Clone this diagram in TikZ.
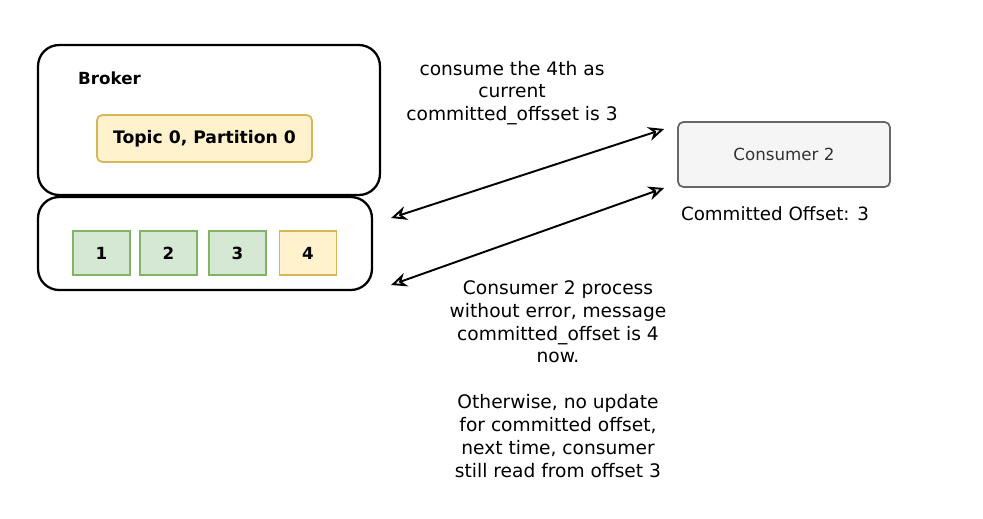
\documentclass[tikz,border=0pt]{standalone}
\usepackage{fontspec}
\setmainfont{DejaVu Sans}
\usepackage{xcolor}
\usetikzlibrary{arrows.meta,positioning}

\definecolor{topicfill}{HTML}{FFF2CC}
\definecolor{topicline}{HTML}{D6B656}
\definecolor{donefill}{HTML}{D5E8D4}
\definecolor{doneline}{HTML}{82B366}
\definecolor{consfill}{HTML}{F5F5F5}
\definecolor{consline}{HTML}{666666}
\definecolor{constext}{HTML}{333333}

\begin{document}
\begin{tikzpicture}[
  x=0.02cm, y=-0.02cm,
  frame/.style={draw, line width=1.3pt, rounded corners=12pt},
  topic/.style={draw=topicline, fill=topicfill, line width=1pt, rounded corners=3pt,
                minimum width=4.3cm, minimum height=0.94cm, font=\bfseries\fontsize{9.8}{12}\selectfont},
  msg/.style={line width=1pt, minimum width=1.14cm, minimum height=0.88cm,
              font=\bfseries\fontsize{9.5}{12}\selectfont},
  done/.style={msg, draw=doneline, fill=donefill},
  todo/.style={msg, draw=topicline, fill=topicfill},
  consumer/.style={draw=consline, fill=consfill, line width=1pt, rounded corners=3pt,
                   minimum width=4.24cm, minimum height=1.3cm, text=constext,
                   font=\fontsize{9.5}{12}\selectfont},
  arrow/.style={{Stealth[open,length=9pt,width=8pt]}-{Stealth[open,length=9pt,width=8pt]}, line width=1.1pt},
  note/.style={align=center, font=\fontsize{10.6}{13}\selectfont}
]
\useasboundingbox (0,0) rectangle (983,518);

% broker side
\node[frame, minimum width=6.84cm, minimum height=3cm] (broker) at (209,120) {};
\node[frame, minimum width=6.68cm, minimum height=1.86cm] (part) at (205,243.5) {};
\node[anchor=west, font=\bfseries\fontsize{9.5}{12}\selectfont] (brklbl) at (72,78) {Broker};
\node[topic] (topic) at (204.5,138.5) {Topic 0, Partition 0};

\node[done] (m1) at (101.5,253) {1};
\node[done] (m2) at (168.5,253) {2};
\node[done] (m3) at (237.5,253) {3};
\node[todo] (m4) at (308,253) {4};

% consumer side
\node[consumer] (cons) at (784,154.5) {Consumer 2};
\node[font=\fontsize{10.4}{12}\selectfont] (offset) at (775,214) {Committed Offset: 3};

\draw[arrow] ([xshift=0.36cm,yshift=0.51cm]part.east) -- ([xshift=-0.26cm,yshift=0.51cm]cons.west);
\draw[arrow] ([xshift=0.36cm,yshift=-0.83cm]part.east) -- ([xshift=-0.26cm,yshift=-0.67cm]cons.west);

\node[note] (ask) at (512,93) {consume the 4th as\\current\\committed\_offsset is 3};
\node[note] (result) at (558,379) {Consumer 2 process\\without error, message\\committed\_offset is 4\\now.\\[13pt]Otherwise, no update\\for committed offset,\\next time, consumer\\still read from offset 3};
\end{tikzpicture}
\end{document}
